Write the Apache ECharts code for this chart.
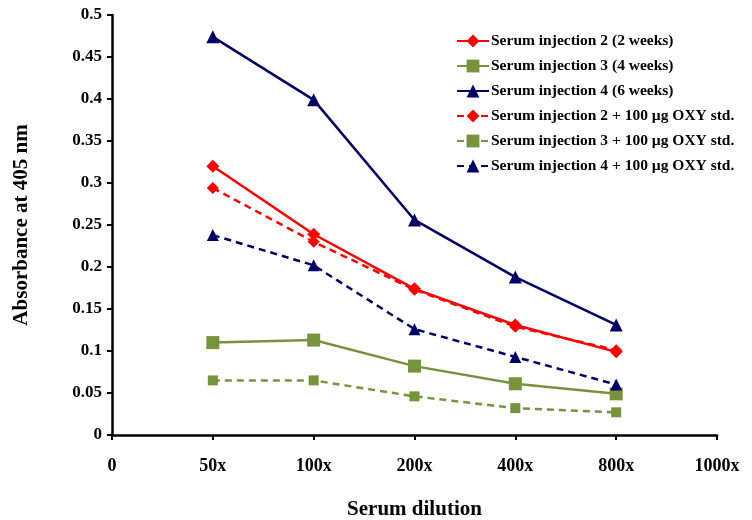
<!DOCTYPE html>
<html><head><meta charset="utf-8">
<script src="https://cdn.jsdelivr.net/npm/echarts@6/dist/echarts.min.js"></script>
<style>html,body{margin:0;padding:0;background:#fff}#c{width:752px;height:520px}</style>
</head><body><div id="c"></div>
<script>
const categories = ['0','50x','100x','200x','400x','800x','1000x'];
const inj2 = [null,0.320,0.239,0.174,0.131,0.099,null];
const inj3 = [null,0.110,0.113,0.082,0.061,0.049,null];
const inj4 = [null,0.474,0.399,0.256,0.188,0.131,null];
const inj2oxy = [null,0.294,0.230,0.173,0.129,0.101,null];
const inj3oxy = [null,0.065,0.065,0.046,0.032,0.027,null];
const inj4oxy = [null,0.238,0.202,0.126,0.093,0.060,null];
const names = ['Serum injection 2 (2 weeks)','Serum injection 3 (4 weeks)','Serum injection 4 (6 weeks)',
  'Serum injection 2 + 100 µg OXY std.','Serum injection 3 + 100 µg OXY std.','Serum injection 4 + 100 µg OXY std.'];

const RED='#FF0000', GREEN='#77933C', NAVY='#000066';
const font = '"Liberation Serif","Times New Roman",serif';
function s(name,data,color,symbol,size,dashed){
  return {name, type:'line', data, color, symbol, symbolSize:size, showSymbol:true,
    connectNulls:false,
    lineStyle:{color, width:2.5, type: dashed?[7,5]:'solid'},
    itemStyle:{color}};
}
const chart = echarts.init(document.getElementById('c'));
chart.setOption({
  animation:false,
  textStyle:{fontFamily:font},
  grid:{left:112,right:35,top:15,bottom:85, outerBoundsMode:'none', containLabel:false},
  legend:{orient:'vertical', left:451, top:28, itemGap:9, itemWidth:32, itemHeight:16,
    textStyle:{fontFamily:font, fontWeight:'bold', fontSize:15.5, color:'#000', padding:[0,0,0,-3]},
    data:names},
  xAxis:{type:'category', data:categories, boundaryGap:false,
    name:'Serum dilution', nameLocation:'middle', nameGap:64,
    nameTextStyle:{fontFamily:font, fontWeight:'bold', fontSize:21, color:'#000'},
    axisLine:{lineStyle:{color:'#000', width:2.5}},
    axisTick:{show:true, length:5, lineStyle:{color:'#000', width:2}, alignWithLabel:true},
    axisLabel:{fontFamily:font, fontWeight:'bold', fontSize:18, color:'#000', margin:22},
    splitLine:{show:false}},
  yAxis:{type:'value', min:0, max:0.5, interval:0.05,
    name:'Absorbance at 405 nm', nameLocation:'middle', nameGap:80, nameRotate:90,
    nameTextStyle:{fontFamily:font, fontWeight:'bold', fontSize:21, color:'#000'},
    axisLine:{show:true, lineStyle:{color:'#000', width:2.5}},
    axisTick:{show:true, length:5, lineStyle:{color:'#000', width:2}},
    axisLabel:{fontFamily:font, fontWeight:'bold', fontSize:17, color:'#000', margin:10,
      formatter:v=>String(+v.toFixed(2))},
    splitLine:{show:false}},
  series:[
    s(names[0],inj2,RED,'diamond',13,false),
    s(names[1],inj3,GREEN,'rect',13,false),
    s(names[2],inj4,NAVY,'triangle',13,false),
    s(names[3],inj2oxy,RED,'diamond',12,true),
    s(names[4],inj3oxy,GREEN,'rect',10,true),
    s(names[5],inj4oxy,NAVY,'triangle',12,true)
  ]
});
</script></body></html>
